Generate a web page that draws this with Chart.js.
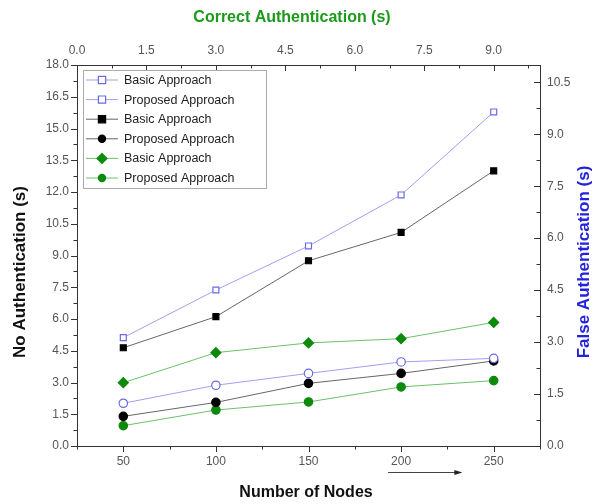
<!DOCTYPE html>
<html><head><meta charset="utf-8">
<script src="https://cdn.jsdelivr.net/npm/chart.js@4.4.1/dist/chart.umd.min.js"></script>
<style>html,body{margin:0;padding:0;background:#fff}#wrap{width:592px;height:504px}</style>
</head><body><div id="wrap"><canvas id="c" width="592" height="504"></canvas></div>
<script>
const nodes = [50, 100, 150, 200, 250];
const blueBasic = [5.12, 7.37, 9.45, 11.86, 15.78];
const blueProposed = [2.02, 2.87, 3.43, 3.97, 4.14];
const blackBasic = [4.64, 6.11, 8.75, 10.09, 13.0];
const blackProposed = [1.40, 2.06, 2.96, 3.43, 4.02];
const greenBasic = [2.99, 4.41, 4.87, 5.07, 5.84];
const greenProposed = [0.96, 1.70, 2.08, 2.79, 3.09];
const seriesLabels = ['Basic Approach','Proposed Approach','Basic Approach','Proposed Approach','Basic Approach','Proposed Approach'];
const leftTicks = [0,1.5,3,4.5,6,7.5,9,10.5,12,13.5,15,16.5,18];
const rightTicks = [0,1.5,3,4.5,6,7.5,9,10.5];
const topTicks = [0,1.5,3,4.5,6,7.5,9];
const bottomTicks = [50,100,150,200,250];
const titles = {bottom:'Number of Nodes', top:'Correct Authentication (s)', left:'No Authentication (s)', right:'False Authentication (s)'};

const FONT = "'Liberation Sans', Arial, sans-serif";
const BLUE = '#6a6ae6', BLUE_LINE = '#a0a0f0';
const BLACK = '#000000', BLACK_LINE = '#666666';
const GREEN = '#0c8a0c', GREEN_LINE = '#6cc06c';

function pts(arr){ return nodes.map((n,i)=>({x:n,y:arr[i]})); }
function ds(i, data, color, line, style, fill){
  return {label: seriesLabels[i], data: pts(data), borderColor: line, borderWidth: 1,
    pointStyle: style, pointRadius: style==='rectRot'?5:4.2, pointBorderWidth: 1.2,
    pointBorderColor: color, pointBackgroundColor: fill ? color : '#ffffff',
    xAxisID:'x', yAxisID:'y', tension:0};
}
const datasets = [
  ds(0, blueBasic, BLUE, BLUE_LINE, 'rect', false),
  ds(1, blueProposed, BLUE, BLUE_LINE, 'circle', false),
  ds(2, blackBasic, BLACK, BLACK_LINE, 'rect', true),
  ds(3, blackProposed, BLACK, BLACK_LINE, 'circle', true),
  ds(4, greenBasic, GREEN, GREEN_LINE, 'rectRot', true),
  ds(5, greenProposed, GREEN, GREEN_LINE, 'circle', true),
];
const legendStyles = ['rect','rect','rect','circle','rectRot','circle'];

const tickPlugin = {
  id:'ticksAndLegend',
  afterDraw(chart){
    const ctx = chart.ctx, ca = chart.chartArea, s = chart.scales;
    ctx.save();
    ctx.strokeStyle = '#333'; ctx.lineWidth = 1;
    const line=(x1,y1,x2,y2)=>{ctx.beginPath();ctx.moveTo(x1,y1);ctx.lineTo(x2,y2);ctx.stroke();};
    const isMaj=(v)=>Math.abs(v/1.5-Math.round(v/1.5))<1e-6;
    for(let v=0; v<=18.001; v+=0.75){ const y=Math.round(s.y.getPixelForValue(v))+0.5; line(ca.left, y, ca.left-(isMaj(v)?6:3.5), y); }
    for(let v=0; v<=11.001; v+=0.75){ const y=Math.round(s.y1.getPixelForValue(v))+0.5; line(ca.right, y, ca.right-(isMaj(v)?6:3.5), y); }
    for(let v=0; v<=10.001; v+=0.75){ const x=Math.round(s.x2.getPixelForValue(v))+0.5; line(x, ca.top, x, ca.top+(isMaj(v)?6:3.5)); }
    for(let v=25; v<=275; v+=25){ const x=Math.round(s.x.getPixelForValue(v))+0.5; line(x, ca.bottom, x, ca.bottom+(v%50===0?6:3.5)); }
    // arrow annotation under 200
    const ax1 = s.x.getPixelForValue(193), ax2 = s.x.getPixelForValue(232), ay = ca.bottom+26.5;
    ctx.strokeStyle='#444'; line(ax1, ay, ax2, ay);
    ctx.fillStyle='#222'; ctx.beginPath(); ctx.moveTo(ax2+2, ay); ctx.lineTo(ax2-6, ay-2.5); ctx.lineTo(ax2-6, ay+2.5); ctx.closePath(); ctx.fill();
    // axis titles
    ctx.textAlign='center'; ctx.textBaseline='middle';
    ctx.font = "bold 16px " + FONT;
    ctx.fillStyle='#111'; ctx.fillText(titles.bottom, 306, ca.bottom+47);
    ctx.fillStyle='#1b9a1b'; ctx.fillText(titles.top, 292, 18);
    ctx.font = "bold 17px " + FONT;
    ctx.save(); ctx.translate(20, 272); ctx.rotate(-Math.PI/2); ctx.fillStyle='#111'; ctx.fillText(titles.left, 0, 0); ctx.restore();
    ctx.save(); ctx.translate(584, 262); ctx.rotate(-Math.PI/2); ctx.fillStyle='#2323dd'; ctx.fillText(titles.right, 0, 0); ctx.restore();
    // legend
    const lx = ca.left+6, ly = ca.top+5, lw = 183, lh = 118;
    ctx.fillStyle='#fff'; ctx.fillRect(lx, ly, lw, lh);
    ctx.strokeStyle='#aaaaaa'; ctx.lineWidth=1; ctx.strokeRect(lx+0.5, ly+0.5, lw, lh);
    ctx.font = "12.5px " + FONT; ctx.textBaseline='middle'; ctx.textAlign='left';
    chart.data.datasets.forEach((d,i)=>{
      const y = ly + 10 + i*19.6;
      ctx.strokeStyle = d.borderColor; ctx.lineWidth=1; line(lx+3, y, lx+35, y);
      ctx.lineWidth = 1.2;
      ctx.fillStyle = d.pointBackgroundColor; ctx.strokeStyle = d.pointBorderColor;
      ctx.beginPath();
      const st = legendStyles[i], r = st==='rectRot'?5:3.6, cx=lx+19;
      if(st==='rect'){ ctx.rect(cx-r, y-r, 2*r, 2*r); }
      else if(st==='circle'){ ctx.arc(cx, y, r, 0, Math.PI*2); }
      else { ctx.moveTo(cx, y-r); ctx.lineTo(cx+r, y); ctx.lineTo(cx, y+r); ctx.lineTo(cx-r, y); ctx.closePath(); }
      ctx.fill(); ctx.stroke();
      ctx.fillStyle='#222'; ctx.fillText(d.label, lx+41, y+0.5);
    });
    ctx.restore();
  }
};

const tickFont = {family: FONT, size: 12};
const tickColor = '#555';
const commonGrid = {display:true, drawOnChartArea:false, drawTicks:false};
const commonBorder = {display:true, color:'#333', width:1};
new Chart(document.getElementById('c'), {
  type:'line',
  data:{datasets},
  options:{
    responsive:false, animation:false, devicePixelRatio:1,
    layout:{padding:0},
    plugins:{legend:{display:false}, tooltip:{enabled:false}},
    scales:{
      x:{type:'linear', position:'bottom', min:25, max:275,
        afterBuildTicks:(sc)=>{sc.ticks = bottomTicks.map(v=>({value:v}));},
        afterFit:(sc)=>{sc.height = 58;},
        ticks:{font:tickFont, color:tickColor, padding:8, maxRotation:0, callback:(v)=>String(v)},
        grid:commonGrid, border:commonBorder, title:{display:false}},
      x2:{type:'linear', axis:'x', position:'top', min:0, max:10,
        afterBuildTicks:(sc)=>{sc.ticks = topTicks.map(v=>({value:v}));},
        afterFit:(sc)=>{sc.height = 65;},
        ticks:{font:tickFont, color:tickColor, padding:7, maxRotation:0, callback:(v)=>Number(v).toFixed(1)},
        grid:commonGrid, border:commonBorder, title:{display:false}},
      y:{type:'linear', position:'left', min:0, max:18,
        afterBuildTicks:(sc)=>{sc.ticks = leftTicks.map(v=>({value:v}));},
        afterFit:(sc)=>{sc.width = 77;},
        ticks:{font:tickFont, color:tickColor, padding:8, callback:(v)=>Number(v).toFixed(1)},
        grid:commonGrid, border:commonBorder, title:{display:false}},
      y1:{type:'linear', position:'right', min:0, max:11,
        afterBuildTicks:(sc)=>{sc.ticks = rightTicks.map(v=>({value:v}));},
        afterFit:(sc)=>{sc.width = 52;},
        ticks:{font:tickFont, color:tickColor, padding:7, callback:(v)=>Number(v).toFixed(1)},
        grid:commonGrid, border:commonBorder, title:{display:false}}
    }
  },
  plugins:[tickPlugin]
});
</script></body></html>
